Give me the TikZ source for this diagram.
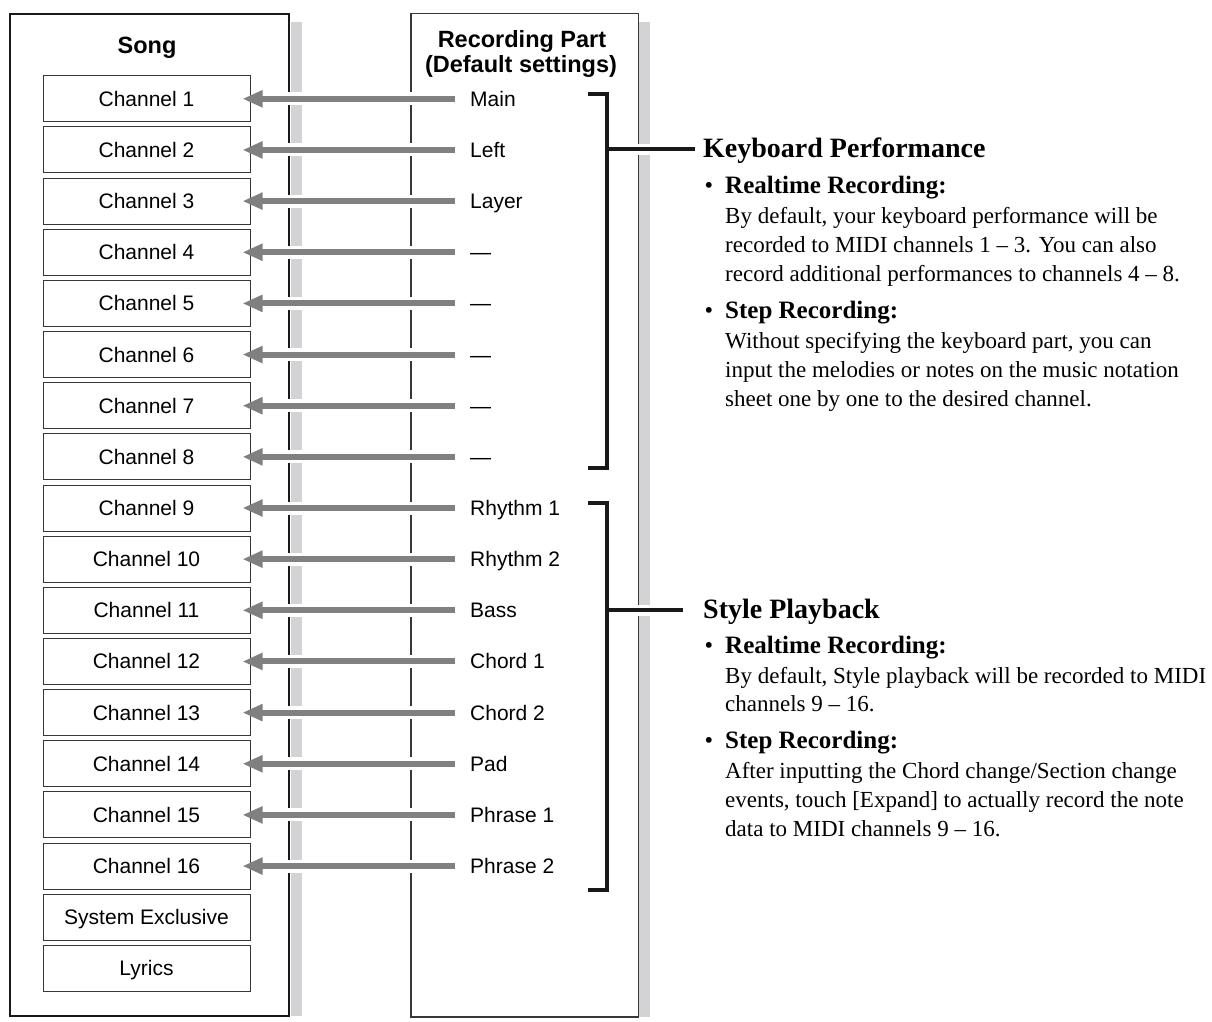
\documentclass[tikz,border=0pt]{standalone}
\usepackage{fontspec}
\setmainfont{Liberation Sans}
\newfontfamily\seriffont{Liberation Serif}
\usetikzlibrary{arrows.meta}
\definecolor{arrgray}{RGB}{128,128,128}
\definecolor{shadegray}{RGB}{211,211,213}
\definecolor{boxline}{RGB}{55,55,55}
\tikzset{
  panelA/.style={draw=black!90, line width=2.6pt},
  panelB/.style={draw=boxline, line width=1.4pt},
  shadowbar/.style={fill=shadegray, draw=none},
  chbox/.style={draw=boxline, line width=1pt, minimum width=207pt, minimum height=46pt,
    inner sep=0pt, text height=15pt, text depth=0pt, font={\fontsize{21}{25}\selectfont}},
  rlabel/.style={inner sep=0pt, text height=15pt, text depth=0pt, anchor=west,
    font={\fontsize{21}{25}\selectfont}},
  ptitle/.style={inner sep=0pt, anchor=base, font={\fontsize{23.5}{28}\selectfont\bfseries}},
  halo/.style={draw=white, line width=13pt, line cap=butt},
  arr/.style={draw=arrgray, line width=6pt, -{Triangle[length=20pt,width=16pt]}},
  brk/.style={draw=black!90, line width=3.5pt, line join=miter, line cap=butt},
  bhalo/.style={draw=white, line width=11pt},
  heading/.style={inner sep=0pt, anchor=base west, font={\seriffont\fontsize{28}{32}\selectfont\bfseries}},
  subhead/.style={inner sep=0pt, anchor=base west, font={\seriffont\fontsize{25}{29}\selectfont\bfseries}},
  bullet/.style={inner sep=0pt, anchor=base west, font={\seriffont\fontsize{21.5}{25}\selectfont\bfseries}},
  bodytext/.style={inner sep=0pt, anchor=base west, font={\seriffont\fontsize{23}{29}\selectfont}},
}
\begin{document}
\begin{tikzpicture}[x=1pt,y=-1pt]
\useasboundingbox (0,0) rectangle (1212,1021);
\fill[white] (0,0) rectangle (1212,1021);

% panels and shadows
\fill[shadowbar] (291,22) rectangle (302,1016);
\fill[shadowbar] (639,22) rectangle (650,1017);
\draw[panelA] (10,14) rectangle (289,1016);
\draw[panelB] (411,13.5) rectangle (638.5,1017);

\node[ptitle] (songtitle) at (147,53) {Song};
\node[ptitle] (rptitle1) at (522,47) {Recording Part};
\node[ptitle] (rptitle2) at (521,72) {(Default settings)};

% channel boxes
\foreach \i/\txt in {1/Channel 1,2/Channel 2,3/Channel 3,4/Channel 4,5/Channel 5,6/Channel 6,
  7/Channel 7,8/Channel 8,9/Channel 9,10/Channel 10,11/Channel 11,12/Channel 12,
  13/Channel 13,14/Channel 14,15/Channel 15,16/Channel 16,17/System Exclusive,18/Lyrics}{
  \pgfmathsetmacro\yy{98.8+(\i-1)*51.15}
  \node[chbox] (c\i) at (146.5,\yy) {\txt};
}

% recording part labels
\foreach \i/\txt in {1/Main,2/Left,3/Layer,4/—,5/—,6/—,7/—,8/—,9/Rhythm 1,10/Rhythm 2,
  11/Bass,12/Chord 1,13/Chord 2,14/Pad,15/Phrase 1,16/Phrase 2}{
  \pgfmathsetmacro\yy{98.8+(\i-1)*51.15}
  \node[rlabel] (p\i) at (470,\yy) {\txt};
}

% arrows
\foreach \i in {1,...,16}{
  \draw[halo] ([xshift=-15pt]p\i.west) -- ([xshift=18pt]c\i.east);
  \draw[arr] ([xshift=-15pt]p\i.west) -- ([xshift=-8pt]c\i.east);
}

% brackets
\coordinate (k1) at (588,94);
\coordinate (k2) at (607,468);
\coordinate (k3) at (588,468);
\coordinate (km) at (607,149);
\coordinate (ke) at (695,149);
\coordinate (s1) at (588,503);
\coordinate (s2) at (607,890);
\coordinate (s3) at (588,890);
\coordinate (sm) at (607,610);
\coordinate (se) at (683,610);
\draw[bhalo] ([xshift=25pt]km) -- ([xshift=50pt]km);
\draw[bhalo] ([xshift=25pt]sm) -- ([xshift=50pt]sm);
\draw[brk] (k1) -| (k2) -- (k3);
\draw[brk] (km) -- (ke);
\draw[brk] (s1) -| (s2) -- (s3);
\draw[brk] (sm) -- (se);

% right text: Keyboard Performance
\node[heading] (kph) at (703,157) {Keyboard Performance};
\node[bullet] (kpb1) at (705,192) {•};
\node[subhead] (kps1) at (725,193) {Realtime Recording:};
\node[bodytext] (kpt1) at (725,223) {By default, your keyboard performance will be};
\node[bodytext] (kpt2) at (725,252) {recorded to MIDI channels 1 – 3. You can also};
\node[bodytext] (kpt3) at (725,281) {record additional performances to channels 4 – 8.};
\node[bullet] (kpb2) at (705,317) {•};
\node[subhead] (kps2) at (725,318) {Step Recording:};
\node[bodytext] (kpt4) at (725,348) {Without specifying the keyboard part, you can};
\node[bodytext] (kpt5) at (725,377) {input the melodies or notes on the music notation};
\node[bodytext] (kpt6) at (725,406) {sheet one by one to the desired channel.};

% right text: Style Playback
\node[heading] (sph) at (703,618) {Style Playback};
\node[bullet] (spb1) at (705,652) {•};
\node[subhead] (sps1) at (725,653) {Realtime Recording:};
\node[bodytext] (spt1) at (725,683) {By default, Style playback will be recorded to MIDI};
\node[bodytext] (spt2) at (725,711) {channels 9 – 16.};
\node[bullet] (spb2) at (705,747) {•};
\node[subhead] (sps2) at (725,748) {Step Recording:};
\node[bodytext] (spt3) at (725,778) {After inputting the Chord change/Section change};
\node[bodytext] (spt4) at (725,807) {events, touch [Expand] to actually record the note};
\node[bodytext] (spt5) at (725,836) {data to MIDI channels 9 – 16.};
\end{tikzpicture}
\end{document}
